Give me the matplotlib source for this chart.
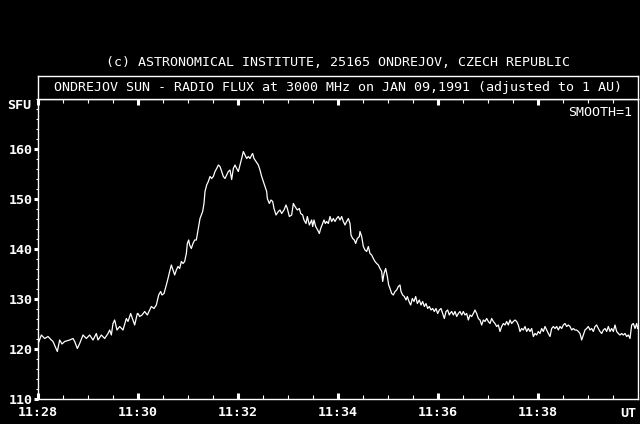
import matplotlib
matplotlib.use("Agg")
import matplotlib.pyplot as plt
from matplotlib.ticker import MultipleLocator, FixedLocator, FixedFormatter
import numpy as np

# seconds after 11:28:00 UT and flux in SFU
secs = [
    0, 4, 8, 12, 16, 18, 23.2, 26, 28.8, 32, 38, 42, 44, 47.2, 50, 54, 58, 62, 66, 70,
    72, 76, 80, 84, 86, 88, 90, 92, 94.8, 98, 102, 106, 108, 111.2, 116, 119.2,
    120, 122, 124.8, 128, 131.2, 134, 136, 139.2, 142, 144.8, 147.2, 148.8, 151.2, 154,
    156, 158, 160, 162, 164, 166, 168, 170, 172, 174, 176, 178, 179.2, 180.8, 182, 184,
    186, 188, 190, 192,
    194.4, 197.6, 199.2, 200.4, 202.4, 204.4, 206.4, 208.4, 210.4, 212.4, 214.4, 216.4,
    218.4, 220.4, 222.4, 224.4, 226.4, 228.4, 230.4, 232.4, 234.4, 236.4, 238.4, 240.4,
    242.4, 244.4, 246.4, 248.4, 250.4, 252.4, 254.4, 256.4, 257.6, 259.2, 261.6, 264.4,
    266.4, 268.4, 270.4, 272.4, 274.4,
    275.2, 277.6, 279.6, 281.6, 283.2, 285.6, 288.4, 290.4, 292.4, 295.2, 297.6, 299.2,
    301.6, 304.4, 306.4, 308.4, 311.2, 313.6, 315.2, 317.6, 319.2, 321.6, 323.2, 325.6,
    328.4, 329.6, 331.2, 333.2, 335.6, 337.6, 339.2, 341.6, 343.2, 344.8, 346.4, 348.4,
    350.4, 352.4, 354.4, 356.4, 358.4, 360.4, 362.4, 364.4, 366.4, 368.4, 370.4, 372.4,
    374.4, 375.6, 377.6, 379.6, 381.2, 383.2, 385.6,
    386.4, 388.4, 390.4, 392.4, 394.4, 396.4, 398.4, 400.4, 402.4, 404.4, 406.4, 408.4,
    410.4, 412.4, 413.6, 415.2, 417.2, 419.2, 420.8, 422.4, 424.4, 426.4, 428.4, 430.4,
    432.4, 434.4, 435.6, 437.6, 439.6, 441.6, 443.2, 445.2, 447.2, 449.2, 451.2, 453.2,
    455.2, 457.6, 459.6, 461.6, 463.6, 465.6, 467.6, 469.6, 471.6, 473.6, 475.6, 477.6,
    479.6, 481.6, 483.6, 485.6, 487.6, 489.6, 491.6, 493.6,
    494.4, 496.4, 498.4, 500.4, 502.4, 504.4, 506.4, 508.4, 510.4, 512.4, 514.4, 516.4,
    518.4, 520.4, 522.4, 524.4, 526.4, 528.4, 530.4, 532.4, 534.4, 536.4, 538.4, 540.4,
    542.4, 544.4, 546.4, 548.4, 550.4, 552.4, 554.4, 556.4, 558.4, 560.4, 562.4, 564.4,
    566.4, 568.4, 570.4, 572.4, 574.4, 576.4, 578.4, 580.4, 582.4, 584.4, 586.4, 588.4,
    590.4, 592.4, 594.4, 596.4, 598.4, 600.4, 602.4, 604.4, 606.4, 608.4, 610.4, 612.4,
    614.4, 616.4, 618.4, 620.4, 622.4, 624.4, 626.4, 628.4, 630.4, 632.4, 634.4, 636.4,
    638.4, 640.4, 642.4, 644.4, 646.4, 648.4, 650.4, 652.4, 654.4, 656.4, 658.4, 660.4,
    662.4, 664.4, 666.4, 668.4, 670.4, 672.4, 674.4, 676.4, 678.4, 680.4, 682.4, 684.4,
    686.4, 688.4, 690.4, 692.4, 694.4, 696.4, 698.4, 700.4, 702.4, 704.4, 706.4, 708.4,
    710.4, 712.4, 714.4, 716.4, 718.4, 719.6,
]
sfu = [
    121.0, 122.8, 122.1, 122.5, 121.8, 121.5, 119.5, 121.8, 121.0, 121.5, 121.8, 122.1,
    121.5, 120.1, 121.1, 122.8, 122.1, 122.8, 121.8, 123.1, 121.8, 122.8, 122.1, 123.1,
    123.8, 122.8, 125.1, 125.8, 123.8, 124.5, 123.8, 126.1, 125.5, 127.1, 124.8, 127.1,
    127.1, 126.5, 126.8, 127.5, 126.8, 127.8, 128.5, 128.1, 128.8, 130.8, 131.5, 130.8,
    131.1, 132.8, 134.1, 135.5, 136.8, 135.8, 134.8, 135.8, 136.5, 136.1, 137.5, 137.1,
    137.5, 139.1, 141.1, 141.8, 140.8, 140.1, 141.1, 141.8, 141.8, 143.8,
    146.1, 147.5, 149.1, 151.5, 152.8, 153.5, 154.5, 154.1, 154.5, 155.5, 156.1, 156.8,
    156.5, 155.5, 154.5, 154.1, 154.8, 155.5, 155.8, 153.9, 156.1, 156.8, 156.1, 155.5,
    156.8, 158.1, 159.5, 158.8, 158.1, 158.5, 158.1, 158.8, 159.1, 158.1, 157.5, 156.8,
    155.8, 154.5, 153.5, 152.5, 151.5,
    150.1, 149.1, 149.8, 149.5, 148.1, 146.8, 147.5, 147.8, 147.1, 147.8, 148.8, 148.1,
    146.5, 146.8, 149.1, 148.5, 147.8, 148.1, 147.1, 146.8, 145.8, 145.1, 146.5, 144.8,
    145.8, 144.5, 145.8, 144.5, 143.8, 143.1, 144.1, 145.1, 145.8, 145.1, 145.5, 145.1,
    146.5, 145.5, 146.1, 145.5, 146.1, 146.5, 145.8, 146.5, 145.5, 144.8, 145.5, 146.1,
    145.1, 142.8, 142.1, 141.8, 141.1, 142.1, 142.5,
    143.5, 142.5, 140.5, 139.8, 139.5, 140.5, 139.1, 138.8, 138.1, 137.5, 137.1, 136.8,
    136.1, 135.5, 133.5, 135.1, 136.1, 134.5, 132.8, 132.1, 131.1, 130.8, 131.5, 131.8,
    132.5, 132.8, 131.5, 130.8, 130.5, 129.8, 130.5, 129.5, 128.8, 130.1, 129.5, 130.5,
    129.1, 129.8, 128.8, 129.5, 128.5, 129.1, 128.1, 128.5, 127.8, 128.1, 127.5, 128.1,
    127.1, 127.8, 128.1, 127.1, 126.1, 127.5, 127.8, 126.8,
    127.1, 127.5, 126.8, 127.5, 126.5, 127.1, 127.5, 126.8, 127.5, 126.8, 127.1, 125.8,
    126.8, 126.5, 127.1, 127.8, 127.1, 126.1, 125.8, 124.8, 125.8, 125.5, 126.1, 125.5,
    125.1, 126.1, 125.5, 125.1, 124.5, 124.8, 123.5, 124.5, 125.1, 124.8, 125.5, 124.8,
    125.8, 125.1, 125.5, 125.8, 125.5, 124.8, 123.5, 124.1, 123.8, 124.5, 123.5, 124.1,
    123.5, 124.1, 122.5, 123.1, 122.8, 123.5, 123.1, 124.1, 123.5, 124.5, 123.8, 123.1,
    122.5, 124.1, 124.5, 124.1, 124.5, 123.8, 124.5, 124.1, 124.8, 125.1, 124.5, 124.8,
    124.5, 123.8, 124.1, 123.8, 123.8, 123.5, 123.1, 121.8, 122.8, 123.8, 124.1, 124.5,
    123.8, 124.1, 123.5, 124.5, 124.8, 124.1, 123.5, 123.1, 123.8, 124.1, 123.5, 124.5,
    123.5, 124.1, 123.5, 124.8, 123.5, 123.1, 122.8, 123.1, 122.8, 123.1, 122.5, 122.8,
    122.1, 124.8, 125.1, 124.1, 125.1, 124.1,
]

x_ticks = [28, 30, 32, 34, 36, 38]
x_labels = ["11:28", "11:30", "11:32", "11:34", "11:36", "11:38"]
y_ticks = [110, 120, 130, 140, 150, 160]

copyright_text = "(c) ASTRONOMICAL INSTITUTE, 25165 ONDREJOV, CZECH REPUBLIC"
title_text = "ONDREJOV SUN - RADIO FLUX at 3000 MHz on JAN 09,1991 (adjusted to 1 AU)"

W, H = 640, 424
mono = "DejaVu Sans Mono"
fs = 9.6

fig = plt.figure(figsize=(W / 100, H / 100), dpi=100, facecolor="black")

# main plot box: x 38..638, y 99..399 (pixels)
ax = fig.add_axes([38 / W, (H - 399) / H, 600 / W, 300 / H], facecolor="black")
minutes = 28 + np.array(secs) / 60.0
ax.plot(minutes, sfu, color="white", lw=0.9)

ax.set_xlim(28, 40)
ax.set_ylim(110, 170)

for s in ax.spines.values():
    s.set_color("white")
    s.set_linewidth(1.0)

ax.xaxis.set_major_locator(FixedLocator(x_ticks))
ax.xaxis.set_major_formatter(FixedFormatter(x_labels))
ax.xaxis.set_minor_locator(MultipleLocator(0.5))
ax.yaxis.set_major_locator(FixedLocator(y_ticks))
ax.yaxis.set_minor_locator(MultipleLocator(2))

ax.tick_params(axis="x", which="major", direction="in", length=4, width=2.2,
               color="white", labelcolor="white", labelsize=fs, pad=5, top=True)
ax.tick_params(axis="x", which="minor", direction="in", length=3, width=0.8,
               color="white", top=True)
ax.tick_params(axis="y", which="major", direction="out", length=3, width=2.2,
               color="white", labelcolor="white", labelsize=fs, pad=1)
ax.tick_params(axis="y", which="minor", direction="out", length=1.5, width=0.8,
               color="white")
for lab in ax.get_xticklabels() + ax.get_yticklabels():
    lab.set_family(mono)
    lab.set_fontweight("bold")

ax.annotate("UT", xy=(1, 0), xycoords="axes fraction", xytext=(-1, -10.5),
            textcoords="offset points", ha="right", va="center", color="white",
            family=mono, fontweight="bold", fontsize=fs)
ax.annotate("SFU", xy=(0, 1), xycoords="axes fraction", xytext=(-5, -4.5),
            textcoords="offset points", ha="right", va="center", color="white",
            family=mono, fontweight="bold", fontsize=fs)
ax.annotate("SMOOTH=1", xy=(1, 1), xycoords="axes fraction", xytext=(-4.5, -10),
            textcoords="offset points", ha="right", va="center", color="white",
            family=mono, fontsize=fs)

# title box above the plot: y 76..99
tax = fig.add_axes([38 / W, (H - 99) / H, 600 / W, 23 / H], facecolor="black")
tax.set_xticks([])
tax.set_yticks([])
for s in tax.spines.values():
    s.set_color("white")
    s.set_linewidth(1.0)
tax.text(0.5, 0.5, title_text, transform=tax.transAxes, ha="center", va="center",
         color="white", family=mono, fontsize=fs)

fig.text(338 / W, 1 - 63 / H, copyright_text, ha="center", va="center",
         color="white", family=mono, fontsize=fs)

fig.savefig("out.png", dpi=100, facecolor="black")
